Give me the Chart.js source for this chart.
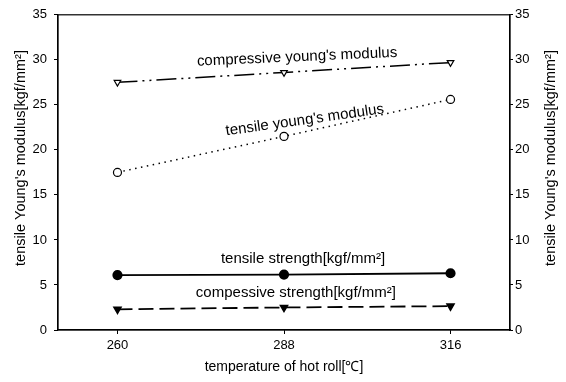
<!DOCTYPE html>
<html><head><meta charset="utf-8">
<script src="https://cdn.jsdelivr.net/npm/chart.js@4"></script>
<style>html,body{margin:0;background:#fff}</style>
</head><body>
<canvas id="c" width="566" height="382"></canvas>
<script>
'use strict';
/* Werte */
const temps=[260,288,316];
const compYoung=[27.5,28.6,29.7];
const tensYoung=[17.5,21.5,25.6];
const tensStr=[6.1,6.15,6.3];
const compStr=[2.3,2.5,2.65];
const yTitle="tensile Young's modulus[kgf/mm\u00B2]";
const xTitle="temperature of hot roll[\u2103]";
const labels=[
  {text:"compressive young's modulus", x:290.2, y:30.3, rot:-2.5},
  {text:"tensile young's modulus", x:291.5, y:23.3, rot:-8},
  {text:"tensile strength[kgf/mm\u00B2]", x:291.2, y:7.9, rot:0},
  {text:"compessive strength[kgf/mm\u00B2]", x:290, y:4.07, rot:0}
];

const FONT='"Liberation Sans", Arial, sans-serif';
const pts=(ys)=>temps.map((t,i)=>({x:t,y:ys[i]}));

const boxAndText={
  id:'boxAndText',
  afterDraw(chart){
    const {ctx,chartArea:a,scales}=chart;
    ctx.save();
    ctx.strokeStyle='#000'; ctx.lineWidth=1.2;
    ctx.strokeRect(a.left,a.top,a.right-a.left,a.bottom-a.top);
    ctx.fillStyle='#000'; ctx.font='15px '+FONT;
    ctx.textAlign='center'; ctx.textBaseline='middle';
    labels.forEach(l=>{
      ctx.save();
      ctx.translate(scales.x.getPixelForValue(l.x),scales.y.getPixelForValue(l.y));
      ctx.rotate(l.rot*Math.PI/180);
      ctx.fillText(l.text,0,0);
      ctx.restore();
    });
    // Achsenbeschriftungen links und rechts, beide von unten nach oben
    ctx.font='14.5px '+FONT;
    [21,551].forEach(xp=>{
      ctx.save();
      ctx.translate(xp,158);
      ctx.rotate(-Math.PI/2);
      ctx.fillText(yTitle,0,0);
      ctx.restore();
    });
    ctx.restore();
  }
};

const yAxis=(pos)=>({
  position:pos, min:0, max:35,
  ticks:{stepSize:5, color:'#000', font:{family:FONT,size:13}, padding: pos==='left'?7:2},
  grid:{display:true, drawOnChartArea:false, tickLength: pos==='left'?4:3, color:'#000'},
  border:{color:'#000', width:1.2},
  title:{display:false},
  afterFit:(s)=>{ s.width = pos==='left'?58:56; }
});

new Chart(document.getElementById('c'),{
  type:'line',
  data:{datasets:[
    {label:"compressive young's modulus", data:pts(compYoung), borderColor:'#000', borderWidth:1.5,
     borderDash:[20,5,2,5,2,5], pointStyle:'triangle', rotation:180, pointRadius:3.8,
     pointBackgroundColor:'#fff', pointBorderColor:'#000', pointBorderWidth:1.2, yAxisID:'y'},
    {label:"tensile young's modulus", data:pts(tensYoung), borderColor:'#000', borderWidth:1.5,
     borderDash:[1.5,4.5], pointStyle:'circle', pointRadius:4,
     pointBackgroundColor:'#fff', pointBorderColor:'#000', pointBorderWidth:1.2, yAxisID:'y'},
    {label:'tensile strength', data:pts(tensStr), borderColor:'#000', borderWidth:1.8,
     pointStyle:'circle', pointRadius:4.2, pointBackgroundColor:'#000', pointBorderColor:'#000', yAxisID:'y'},
    {label:'compessive strength', data:pts(compStr), borderColor:'#000', borderWidth:1.8,
     borderDash:[15,6], pointStyle:'triangle', rotation:180, pointRadius:3.8,
     pointBackgroundColor:'#000', pointBorderColor:'#000', yAxisID:'y'}
  ]},
  options:{
    responsive:false, devicePixelRatio:1, animation:false,
    layout:{padding:{top:12,left:0,right:0,bottom:0}},
    plugins:{legend:{display:false}, tooltip:{enabled:false}},
    scales:{
      x:{type:'linear', min:250, max:326,
        afterBuildTicks:(s)=>{ s.ticks=temps.map(v=>({value:v})); },
        ticks:{color:'#000', font:{family:FONT,size:13}, padding:4},
        grid:{display:true, drawOnChartArea:false, tickLength:4, color:'#000'},
        border:{color:'#000', width:1.2},
        title:{display:true, text:xTitle, color:'#000', font:{family:FONT,size:14}, padding:{top:0,bottom:6}},
        afterFit:(s)=>{ s.height=52; }
      },
      y:yAxis('left'),
      y2:yAxis('right')
    }
  },
  plugins:[boxAndText]
});
</script>
</body></html>
